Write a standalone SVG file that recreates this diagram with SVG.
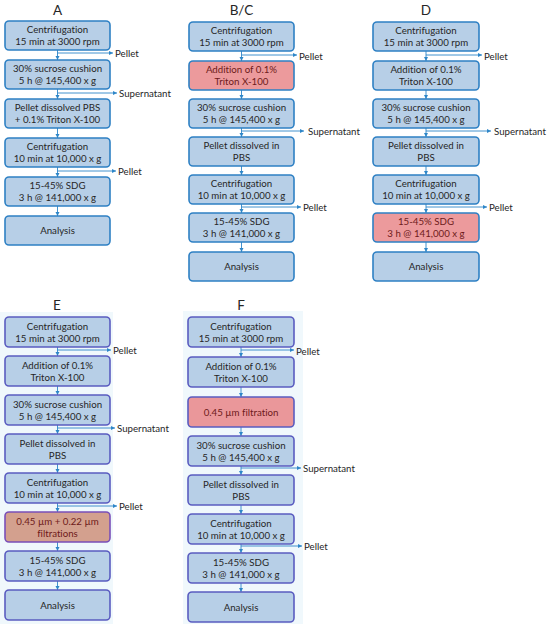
<svg xmlns="http://www.w3.org/2000/svg" width="550" height="624" viewBox="0 0 550 624">
<defs>
<marker id="ah" markerUnits="userSpaceOnUse" markerWidth="5" markerHeight="5" refX="4" refY="2" orient="auto">
<path d="M0,0 L4,2 L0,4 z" fill="#2E86C8"/>
</marker>
<style>
text{font-family:Lato,"Liberation Sans",sans-serif;font-size:9.7px;fill:#262626;font-variant-ligatures:none}
.t{font-size:13.5px;text-anchor:middle}
.c{text-anchor:middle}
.r{fill:#6E1A1A}
.b{fill:#B7CFE7;stroke:#2E80C4;stroke-width:1.6}
.rb{fill:#EC9A9C;stroke:#2E80C4;stroke-width:1.6}
.bp{fill:#B7CFE7;stroke:#5A5CC0;stroke-width:1.6}
.rp{fill:#EA979A;stroke:#5A5CC0;stroke-width:1.6}
.rq{fill:#D3A08E;stroke:#7A4FB8;stroke-width:1.6}
.ln{fill:none;stroke:#2E86C8;stroke-width:0.9;marker-end:url(#ah)}
</style>
</defs>
<rect width="550" height="624" fill="#FFFFFF"/>
<rect x="0" y="312" width="113" height="312" fill="#F0F8FC"/>
<rect x="183" y="311" width="120" height="313" fill="#F0F8FC"/>

<g id="titles">
<text class="t" x="57.5" y="15">A</text>
<text class="t" x="241.5" y="15">B/C</text>
<text class="t" x="426" y="15">D</text>
<text class="t" x="57" y="310">E</text>
<text class="t" x="241" y="310">F</text>
</g>

<g id="connectors">
<!-- A -->
<path class="ln" d="M57.5,50 V60"/>
<path class="ln" d="M57.5,89 V99"/>
<path class="ln" d="M57.5,128 V138"/>
<path class="ln" d="M57.5,167 V177"/>
<path class="ln" d="M57.5,206 V216"/>
<path class="ln" d="M57.5,53 H113"/>
<path class="ln" d="M57.5,93 H117"/>
<path class="ln" d="M57.5,171 H116"/>
<!-- B/C -->
<path class="ln" d="M241.5,51 V61"/>
<path class="ln" d="M241.5,90 V99"/>
<path class="ln" d="M241.5,128 V137"/>
<path class="ln" d="M241.5,166 V175"/>
<path class="ln" d="M241.5,204 V213"/>
<path class="ln" d="M241.5,242 V252"/>
<path class="ln" d="M241.5,55 H297"/>
<path class="ln" d="M241.5,131 H304"/>
<path class="ln" d="M241.5,207 H301"/>
<!-- D -->
<path class="ln" d="M426,51 V61"/>
<path class="ln" d="M426,90 V99"/>
<path class="ln" d="M426,128 V137"/>
<path class="ln" d="M426,166 V175"/>
<path class="ln" d="M426,204 V213"/>
<path class="ln" d="M426,242 V252"/>
<path class="ln" d="M426,55 H482"/>
<path class="ln" d="M426,131 H491"/>
<path class="ln" d="M426,207 H487"/>
<!-- E -->
<path class="ln" d="M57.5,347 V356"/>
<path class="ln" d="M57.5,386 V395"/>
<path class="ln" d="M57.5,425 V434"/>
<path class="ln" d="M57.5,464 V473"/>
<path class="ln" d="M57.5,503 V512"/>
<path class="ln" d="M57.5,542 V551"/>
<path class="ln" d="M57.5,581 V590"/>
<path class="ln" d="M57.5,350 H111"/>
<path class="ln" d="M57.5,428 H115"/>
<path class="ln" d="M57.5,506 H117"/>
<!-- F -->
<path class="ln" d="M241,347 V357"/>
<path class="ln" d="M241,387 V397"/>
<path class="ln" d="M241,427 V436"/>
<path class="ln" d="M241,466 V475"/>
<path class="ln" d="M241,505 V514"/>
<path class="ln" d="M241,544 V553"/>
<path class="ln" d="M241,583 V592"/>
<path class="ln" d="M241,350 H294"/>
<path class="ln" d="M241,468 H301"/>
<path class="ln" d="M241,546 H302"/>
</g>

<g id="branch-labels">
<text x="115" y="57">Pellet</text>
<text x="119" y="97">Supernatant</text>
<text x="118" y="175">Pellet</text>
<text x="299" y="59.5">Pellet</text>
<text x="308" y="134.5">Supernatant</text>
<text x="303" y="210.5">Pellet</text>
<text x="484" y="59.5">Pellet</text>
<text x="494" y="134.5">Supernatant</text>
<text x="489" y="210.5">Pellet</text>
<text x="113" y="354">Pellet</text>
<text x="117" y="431.5">Supernatant</text>
<text x="119" y="509.5">Pellet</text>
<text x="296" y="355">Pellet</text>
<text x="303" y="471.5">Supernatant</text>
<text x="304" y="549.5">Pellet</text>
</g>

<!-- Column A -->
<g id="A1"><rect class="b" x="5" y="21" width="105" height="29" rx="4"/><text class="c" x="57.5" y="33">Centrifugation</text><text class="c" x="57.5" y="45">15 min at 3000 rpm</text></g>
<g id="A2"><rect class="b" x="5" y="60" width="105" height="29" rx="4"/><text class="c" x="57.5" y="72">30% sucrose cushion</text><text class="c" x="57.5" y="84">5 h @ 145,400 x g</text></g>
<g id="A3"><rect class="b" x="5" y="99" width="105" height="29" rx="4"/><text class="c" x="57.5" y="111">Pellet dissolved PBS</text><text class="c" x="57.5" y="123">+ 0.1% Triton X-100</text></g>
<g id="A4"><rect class="b" x="5" y="138" width="105" height="29" rx="4"/><text class="c" x="57.5" y="150">Centrifugation</text><text class="c" x="57.5" y="162">10 min at 10,000 x g</text></g>
<g id="A5"><rect class="b" x="5" y="177" width="105" height="29" rx="4"/><text class="c" x="57.5" y="189">15-45% SDG</text><text class="c" x="57.5" y="201">3 h @ 141,000 x g</text></g>
<g id="A6"><rect class="b" x="5" y="216" width="105" height="29" rx="4"/><text class="c" x="57.5" y="234">Analysis</text></g>

<!-- Column B/C -->
<g id="B1"><rect class="b" x="189" y="22" width="105" height="29" rx="4"/><text class="c" x="241.5" y="34">Centrifugation</text><text class="c" x="241.5" y="46">15 min at 3000 rpm</text></g>
<g id="B2"><rect class="rb" x="189" y="61" width="105" height="29" rx="4"/><text class="c r" x="241.5" y="73">Addition of 0.1%</text><text class="c r" x="241.5" y="85">Triton X-100</text></g>
<g id="B3"><rect class="b" x="189" y="99" width="105" height="29" rx="4"/><text class="c" x="241.5" y="111">30% sucrose cushion</text><text class="c" x="241.5" y="123">5 h @ 145,400 x g</text></g>
<g id="B4"><rect class="b" x="189" y="137" width="105" height="29" rx="4"/><text class="c" x="241.5" y="149">Pellet dissolved in</text><text class="c" x="241.5" y="161">PBS</text></g>
<g id="B5"><rect class="b" x="189" y="175" width="105" height="29" rx="4"/><text class="c" x="241.5" y="187">Centrifugation</text><text class="c" x="241.5" y="199">10 min at 10,000 x g</text></g>
<g id="B6"><rect class="b" x="189" y="213" width="105" height="29" rx="4"/><text class="c" x="241.5" y="225">15-45% SDG</text><text class="c" x="241.5" y="237">3 h @ 141,000 x g</text></g>
<g id="B7"><rect class="b" x="189" y="252" width="105" height="29" rx="4"/><text class="c" x="241.5" y="270">Analysis</text></g>

<!-- Column D -->
<g id="D1"><rect class="b" x="373" y="22" width="106" height="29" rx="4"/><text class="c" x="426" y="34">Centrifugation</text><text class="c" x="426" y="46">15 min at 3000 rpm</text></g>
<g id="D2"><rect class="b" x="373" y="61" width="106" height="29" rx="4"/><text class="c" x="426" y="73">Addition of 0.1%</text><text class="c" x="426" y="85">Triton X-100</text></g>
<g id="D3"><rect class="b" x="373" y="99" width="106" height="29" rx="4"/><text class="c" x="426" y="111">30% sucrose cushion</text><text class="c" x="426" y="123">5 h @ 145,400 x g</text></g>
<g id="D4"><rect class="b" x="373" y="137" width="106" height="29" rx="4"/><text class="c" x="426" y="149">Pellet dissolved in</text><text class="c" x="426" y="161">PBS</text></g>
<g id="D5"><rect class="b" x="373" y="175" width="106" height="29" rx="4"/><text class="c" x="426" y="187">Centrifugation</text><text class="c" x="426" y="199">10 min at 10,000 x g</text></g>
<g id="D6"><rect class="rb" x="373" y="213" width="106" height="29" rx="4"/><text class="c r" x="426" y="225">15-45% SDG</text><text class="c r" x="426" y="237">3 h @ 141,000 x g</text></g>
<g id="D7"><rect class="b" x="373" y="252" width="106" height="29" rx="4"/><text class="c" x="426" y="270">Analysis</text></g>

<!-- Column E -->
<g id="E1"><rect class="bp" x="5" y="317" width="105" height="30" rx="4"/><text class="c" x="57.5" y="329.5">Centrifugation</text><text class="c" x="57.5" y="341.5">15 min at 3000 rpm</text></g>
<g id="E2"><rect class="bp" x="5" y="356" width="105" height="30" rx="4"/><text class="c" x="57.5" y="368.5">Addition of 0.1%</text><text class="c" x="57.5" y="380.5">Triton X-100</text></g>
<g id="E3"><rect class="bp" x="5" y="395" width="105" height="30" rx="4"/><text class="c" x="57.5" y="407.5">30% sucrose cushion</text><text class="c" x="57.5" y="419.5">5 h @ 145,400 x g</text></g>
<g id="E4"><rect class="bp" x="5" y="434" width="105" height="30" rx="4"/><text class="c" x="57.5" y="446.5">Pellet dissolved in</text><text class="c" x="57.5" y="458.5">PBS</text></g>
<g id="E5"><rect class="bp" x="5" y="473" width="105" height="30" rx="4"/><text class="c" x="57.5" y="485.5">Centrifugation</text><text class="c" x="57.5" y="497.5">10 min at 10,000 x g</text></g>
<g id="E6"><rect class="rq" x="5" y="512" width="105" height="30" rx="4"/><text class="c r" x="57.5" y="524.5">0.45 µm + 0.22 µm</text><text class="c r" x="57.5" y="536.5">filtrations</text></g>
<g id="E7"><rect class="bp" x="5" y="551" width="105" height="30" rx="4"/><text class="c" x="57.5" y="563.5">15-45% SDG</text><text class="c" x="57.5" y="575.5">3 h @ 141,000 x g</text></g>
<g id="E8"><rect class="bp" x="5" y="590" width="105" height="30" rx="4"/><text class="c" x="57.5" y="608.5">Analysis</text></g>

<!-- Column F -->
<g id="F1"><rect class="bp" x="188" y="317" width="106" height="30" rx="4"/><text class="c" x="241" y="329.5">Centrifugation</text><text class="c" x="241" y="341.5">15 min at 3000 rpm</text></g>
<g id="F2"><rect class="bp" x="188" y="357" width="106" height="30" rx="4"/><text class="c" x="241" y="369.5">Addition of 0.1%</text><text class="c" x="241" y="381.5">Triton X-100</text></g>
<g id="F3"><rect class="rp" x="188" y="397" width="106" height="30" rx="4"/><text class="c r" x="241" y="415.5">0.45 µm filtration</text></g>
<g id="F4"><rect class="bp" x="188" y="436" width="106" height="30" rx="4"/><text class="c" x="241" y="448.5">30% sucrose cushion</text><text class="c" x="241" y="460.5">5 h @ 145,400 x g</text></g>
<g id="F5"><rect class="bp" x="188" y="475" width="106" height="30" rx="4"/><text class="c" x="241" y="487.5">Pellet dissolved in</text><text class="c" x="241" y="499.5">PBS</text></g>
<g id="F6"><rect class="bp" x="188" y="514" width="106" height="30" rx="4"/><text class="c" x="241" y="526.5">Centrifugation</text><text class="c" x="241" y="538.5">10 min at 10,000 x g</text></g>
<g id="F7"><rect class="bp" x="188" y="553" width="106" height="30" rx="4"/><text class="c" x="241" y="565.5">15-45% SDG</text><text class="c" x="241" y="577.5">3 h @ 141,000 x g</text></g>
<g id="F8"><rect class="bp" x="188" y="592" width="106" height="30" rx="4"/><text class="c" x="241" y="610.5">Analysis</text></g>
</svg>
